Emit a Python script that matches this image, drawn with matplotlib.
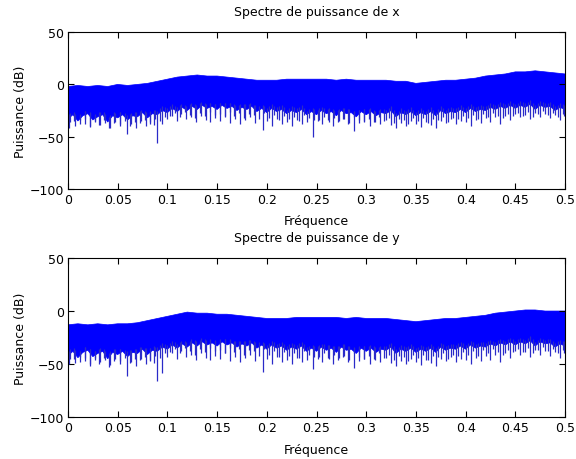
import matplotlib.pyplot as plt
import numpy as np

plt.rcParams['font.family'] = ['DejaVu Sans']

# ---------------------------------------------------------------------------
# Data (dB values, normalised frequency)
# ---------------------------------------------------------------------------

# upper edge of the dense band, every 0.01
freq_top = [i / 100 for i in range(51)]
top_x = [-2, -1, -2, -1, -2, 0, -1, 0, 1, 3, 5, 7, 8, 9, 8, 8, 7, 6, 5, 4,
         4, 4, 5, 5, 5, 5, 5, 4, 5, 4, 4, 4, 4, 3, 3, 1, 2, 3, 4, 4,
         5, 6, 8, 9, 10, 12, 12, 13, 12, 11, 10]
top_y = [-13, -12, -13, -12, -13, -12, -12, -11, -9, -7, -5, -3, -1, -2, -2,
         -3, -3, -4, -5, -6, -7, -7, -7, -6, -6, -6, -6, -6, -7, -6, -7, -7,
         -7, -8, -9, -10, -9, -8, -7, -7, -6, -5, -4, -2, -1, 0, 1, 1, 0, 0, 0]

# ragged lower edge of the dense band, every 0.005
freq_low = [i * 0.005 for i in range(101)]
low_x = [-33, -29, -35, -30, -28, -34, -31, -29, -36, -30,
         -32, -29, -34, -30, -31, -27, -32, -28, -29, -25,
         -27, -23, -26, -22, -25, -21, -24, -20, -23, -21,
         -24, -20, -23, -21, -25, -22, -24, -21, -26, -23,
         -27, -23, -26, -24, -28, -25, -27, -24, -29, -26,
         -29, -25, -28, -26, -30, -25, -28, -27, -31, -26,
         -29, -26, -30, -27, -28, -25, -31, -27, -29, -26,
         -30, -27, -29, -26, -30, -25, -28, -26, -27, -24,
         -27, -23, -26, -24, -25, -22, -24, -21, -23, -20,
         -23, -20, -22, -19, -24, -20, -22, -21, -25, -22,
         -24]
low_y = [-42, -38, -44, -39, -37, -43, -40, -38, -45, -39,
         -41, -38, -43, -39, -40, -36, -41, -37, -38, -34,
         -36, -32, -35, -31, -34, -30, -33, -29, -32, -30,
         -33, -29, -32, -30, -34, -31, -33, -30, -35, -32,
         -36, -32, -35, -33, -37, -34, -36, -33, -38, -35,
         -38, -34, -37, -35, -39, -34, -37, -36, -40, -35,
         -38, -35, -39, -36, -37, -34, -40, -36, -38, -35,
         -39, -36, -38, -35, -39, -34, -37, -35, -36, -33,
         -36, -32, -35, -33, -34, -31, -33, -30, -32, -29,
         -32, -29, -31, -28, -33, -29, -31, -30, -34, -31,
         -33]

# long downward spikes below the band
spike_f = [0.001, 0.006, 0.012, 0.017, 0.022, 0.027, 0.031, 0.036, 0.041,
           0.046, 0.052, 0.059, 0.063, 0.068, 0.073, 0.078, 0.083, 0.087,
           0.090, 0.095, 0.100, 0.105, 0.110, 0.114, 0.119, 0.124, 0.129,
           0.134, 0.139, 0.143, 0.148, 0.153, 0.158, 0.163, 0.168, 0.173,
           0.178, 0.183, 0.188, 0.196, 0.200, 0.205, 0.210, 0.215, 0.220,
           0.225, 0.230, 0.235, 0.240, 0.246, 0.251, 0.256, 0.262, 0.267,
           0.272, 0.277, 0.282, 0.288, 0.293, 0.298, 0.304, 0.309, 0.314,
           0.320, 0.325, 0.330, 0.335, 0.340, 0.345, 0.350, 0.355, 0.360,
           0.365, 0.370, 0.375, 0.380, 0.385, 0.390, 0.395, 0.400, 0.405,
           0.410, 0.415, 0.420, 0.425, 0.430, 0.435, 0.440, 0.445, 0.450,
           0.455, 0.460, 0.465, 0.470, 0.475, 0.480, 0.485, 0.490, 0.495,
           0.499]
spike_x = [-42, -35, -38, -33, -40, -36, -39, -34, -42, -37, -40, -47, -38,
           -42, -35, -40, -36, -39, -56, -38, -33, -30, -35, -28, -33, -31,
           -36, -30, -34, -36, -32, -35, -30, -37, -33, -38, -34, -31, -37,
           -44, -35, -40, -33, -38, -36, -40, -34, -38, -36, -50, -35, -38,
           -34, -40, -36, -33, -38, -45, -37, -35, -40, -36, -38, -34, -39,
           -42, -37, -40, -35, -38, -41, -36, -39, -42, -35, -37, -33, -38,
           -35, -36, -40, -34, -37, -32, -36, -31, -38, -30, -34, -28, -31,
           -29, -33, -27, -31, -28, -32, -29, -34, -30]
spike_y = [-50, -45, -48, -44, -52, -46, -50, -44, -53, -47, -50, -61, -48,
           -52, -45, -50, -46, -49, -66, -58, -43, -40, -45, -38, -43, -41,
           -46, -40, -44, -46, -42, -45, -40, -47, -43, -48, -44, -41, -47,
           -57, -45, -50, -43, -48, -46, -50, -44, -48, -46, -55, -45, -48,
           -44, -50, -46, -43, -48, -54, -47, -45, -50, -46, -48, -44, -49,
           -52, -47, -50, -45, -48, -51, -46, -49, -52, -45, -47, -43, -48,
           -45, -46, -50, -44, -47, -42, -46, -41, -48, -40, -44, -38, -41,
           -39, -43, -37, -41, -38, -42, -39, -44, -40]

# shorter spikes in between, centred every 0.005 starting at 0.0025
short_f = [0.0025 + i * 0.005 for i in range(100)]
short_x = [-36, -40, -34, -38, -41, -35, -39, -37, -42, -36,
           -38, -35, -40, -36, -37, -34, -38, -33, -35, -31,
           -30, -27, -31, -26, -29, -32, -27, -30, -26, -29,
           -28, -31, -26, -30, -27, -32, -28, -29, -33, -27,
           -32, -29, -34, -30, -33, -31, -35, -29, -32, -34,
           -34, -31, -36, -32, -35, -33, -37, -31, -34, -36,
           -33, -36, -31, -35, -32, -37, -33, -34, -38, -32,
           -35, -32, -37, -33, -34, -31, -36, -32, -33, -30,
           -32, -29, -33, -28, -31, -27, -30, -32, -28, -30,
           -27, -30, -26, -31, -28, -25, -29, -27, -31, -28]
short_y = [-45, -49, -43, -47, -50, -44, -48, -46, -51, -45,
           -47, -44, -49, -45, -46, -43, -47, -42, -44, -40,
           -39, -36, -40, -35, -38, -41, -36, -39, -35, -38,
           -37, -40, -35, -39, -36, -41, -37, -38, -42, -36,
           -41, -38, -43, -39, -42, -40, -44, -38, -41, -43,
           -43, -40, -45, -41, -44, -42, -46, -40, -43, -45,
           -42, -45, -40, -44, -41, -46, -42, -43, -47, -41,
           -44, -41, -46, -42, -43, -40, -45, -41, -42, -39,
           -41, -38, -42, -37, -40, -36, -39, -41, -37, -39,
           -36, -39, -35, -40, -37, -34, -38, -36, -40, -37]

panels = [
    ('Spectre de puissance de x', top_x, low_x, spike_x, short_x),
    ('Spectre de puissance de y', top_y, low_y, spike_y, short_y),
]

# ---------------------------------------------------------------------------
# Plot
# ---------------------------------------------------------------------------

fig = plt.figure(figsize=(5.76, 4.6), dpi=100)
rects = [[0.118, 0.587, 0.863, 0.341], [0.118, 0.091, 0.863, 0.346]]

for rect, (title, top, low, spikes, shorts) in zip(rects, panels):
    ax = fig.add_axes(rect)
    band_f = np.concatenate([freq_top, freq_low[::-1]])
    band_db = np.concatenate([top, low[::-1]])
    ax.fill(band_f, band_db, color='#0000ff', lw=0.5, ec='#0000ff')
    # each spike hangs from inside the band
    sf = np.concatenate([spike_f, short_f])
    sd = np.concatenate([spikes, shorts])
    spike_start = np.interp(sf, freq_low, low) + 4
    ax.vlines(sf, sd, spike_start, color='#2a2ac8', lw=0.9)

    ax.set_xlim(0, 0.5)
    ax.set_ylim(-100, 50)
    ax.set_xticks(np.arange(0, 0.51, 0.05))
    ax.set_xticklabels(['0', '0.05', '0.1', '0.15', '0.2', '0.25', '0.3',
                        '0.35', '0.4', '0.45', '0.5'])
    ax.set_yticks([-100, -50, 0, 50])
    ax.tick_params(direction='in', top=True, right=True, labelsize=9,
                   length=4, pad=3)
    ax.set_title(title, fontsize=9, pad=12)
    ax.set_xlabel('Fréquence', fontsize=9, labelpad=6)
    ax.set_ylabel('Puissance (dB)', fontsize=9, labelpad=2)
    for s in ax.spines.values():
        s.set_linewidth(0.8)

fig.savefig('out.png', dpi=100)
